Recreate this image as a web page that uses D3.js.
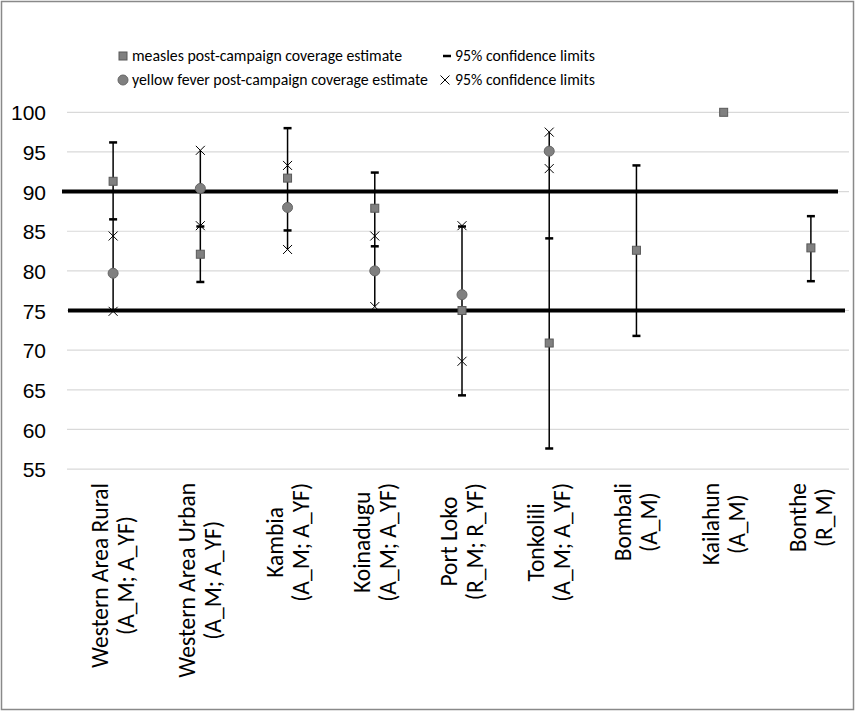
<!DOCTYPE html>
<html>
<head>
<meta charset="utf-8">
<script src="https://cdn.jsdelivr.net/npm/d3@7"></script>
<style>
  html, body { margin: 0; padding: 0; background: #fff; }
  svg { display: block; }
</style>
</head>
<body>
<svg id="chart" width="857" height="712"></svg>
<script>
// ---- data ----
const categories = ["Western Area Rural", "Western Area Urban", "Kambia", "Koinadugu", "Port Loko", "Tonkolili", "Bombali", "Kailahun", "Bonthe"];
const codes = ["(A_M; A_YF)", "(A_M; A_YF)", "(A_M; A_YF)", "(A_M; A_YF)", "(R_M; R_YF)", "(A_M; A_YF)", "(A_M)", "(A_M)", "(R_M)"];
const measles     = [91.3, 82.1, 91.7, 87.9, 75.0, 70.9, 82.6, 100.0, 82.9];
const measlesLow  = [86.5, 78.6, 85.1, 83.1, 64.3, 57.6, 71.8, null, 78.7];
const measlesHigh = [96.2, 85.6, 98.0, 92.4, 85.6, 84.1, 93.3, null, 86.9];
const yellowFever     = [79.7, 90.4, 88.0, 80.0, 77.0, 95.1, null, null, null];
const yellowFeverLow  = [74.9, 85.7, 82.7, 75.5, 68.6, 92.9, null, null, null];
const yellowFeverHigh = [84.4, 95.2, 93.3, 84.4, 85.7, 97.5, null, null, null];
const yTicks = [55, 60, 65, 70, 75, 80, 85, 90, 95, 100];
const targetLines = [90, 75];
const legendLabels = ["measles post-campaign coverage estimate", "yellow fever post-campaign coverage estimate", "95% confidence limits", "95% confidence limits"];

// ---- setup ----
const svg = d3.select("#chart");
const labelFont = "Carlito, Calibri, Lato, 'Open Sans', sans-serif";

svg.append("rect").attr("x", 1.5).attr("y", 1.5).attr("width", 852).attr("height", 708)
  .attr("fill", "#fff").attr("stroke", "#898989").attr("stroke-width", 1.5);

const x = d3.scaleBand().domain(categories).range([69.5, 854.5]).padding(0);
const y = d3.scaleLinear().domain([55, 100]).range([469.1, 112.3]);
const cx = c => x(c) + x.bandwidth() / 2;

// gridlines
svg.append("g").selectAll("line").data(yTicks).join("line")
  .attr("x1", 67).attr("x2", 849)
  .attr("y1", d => y(d)).attr("y2", d => y(d))
  .attr("stroke", "#d9d9d9").attr("stroke-width", 1.2);

// y axis labels
const yAxis = d3.axisLeft(y).tickValues(yTicks).tickSize(0).tickPadding(0);
const ga = svg.append("g").attr("transform", "translate(46,0)").call(yAxis);
ga.select(".domain").remove();
ga.selectAll("text").attr("font-family", "'Liberation Sans', Arial, sans-serif")
  .attr("font-size", 21).attr("fill", "#000").attr("dy", "0.36em");

// target thick lines
const targetExtent = { 90: [62, 838], 75: [68, 845] };
svg.append("g").selectAll("line").data(targetLines).join("line")
  .attr("x1", d => targetExtent[d][0]).attr("x2", d => targetExtent[d][1])
  .attr("y1", d => y(d)).attr("y2", d => y(d))
  .attr("stroke", "#000").attr("stroke-width", 4);

// vertical CI lines (combined extent per category)
const idx = d3.range(categories.length);
const vert = idx.map(i => {
  const vals = [measlesLow[i], measlesHigh[i], yellowFeverLow[i], yellowFeverHigh[i]].filter(v => v != null);
  return vals.length ? { i, lo: d3.min(vals), hi: d3.max(vals) } : null;
}).filter(d => d);
svg.append("g").selectAll("line").data(vert).join("line")
  .attr("x1", d => cx(categories[d.i])).attr("x2", d => cx(categories[d.i]))
  .attr("y1", d => y(d.hi)).attr("y2", d => y(d.lo))
  .attr("stroke", "#000").attr("stroke-width", 1.5);

// measles caps
const caps = [];
idx.forEach(i => {
  if (measlesLow[i] != null) caps.push({ i, v: measlesLow[i] });
  if (measlesHigh[i] != null) caps.push({ i, v: measlesHigh[i] });
});
svg.append("g").selectAll("line").data(caps).join("line")
  .attr("x1", d => cx(categories[d.i]) - 4).attr("x2", d => cx(categories[d.i]) + 4)
  .attr("y1", d => y(d.v)).attr("y2", d => y(d.v))
  .attr("stroke", "#000").attr("stroke-width", 2.5);

// yellow fever X markers
const xs = [];
idx.forEach(i => {
  if (yellowFeverLow[i] != null) xs.push({ i, v: yellowFeverLow[i] });
  if (yellowFeverHigh[i] != null) xs.push({ i, v: yellowFeverHigh[i] });
});
const crossPath = (px, py, s) => `M${px - s},${py - s}L${px + s},${py + s}M${px - s},${py + s}L${px + s},${py - s}`;
svg.append("g").selectAll("path").data(xs).join("path")
  .attr("d", d => crossPath(cx(categories[d.i]), y(d.v), 4.5))
  .attr("stroke", "#000").attr("stroke-width", 1).attr("fill", "none");

// measles squares
svg.append("g").selectAll("rect").data(idx.filter(i => measles[i] != null)).join("rect")
  .attr("x", i => cx(categories[i]) - 4).attr("y", i => y(measles[i]) - 4)
  .attr("width", 8).attr("height", 8)
  .attr("fill", "#808080").attr("stroke", "#595959").attr("stroke-width", 1);

// yellow fever circles
svg.append("g").selectAll("circle").data(idx.filter(i => yellowFever[i] != null)).join("circle")
  .attr("cx", i => cx(categories[i])).attr("cy", i => y(yellowFever[i]))
  .attr("r", 5).attr("fill", "#808080").attr("stroke", "#666").attr("stroke-width", 1);

// x labels (rotated, two lines, block anchored at top)
const labelTop = 483;
const lg = svg.append("g").selectAll("g").data(idx).join("g");
lg.each(function(i) {
  const g = d3.select(this);
  const c = cx(categories[i]);
  const t1 = g.append("text").text(categories[i]);
  const t2 = g.append("text").text(codes[i]);
  [t1, t2].forEach(t => t.attr("font-family", labelFont).attr("font-size", 23.5).attr("fill", "#000").attr("text-anchor", "middle"));
  const maxLen = Math.max(t1.node().getComputedTextLength(), t2.node().getComputedTextLength());
  const mid = labelTop + maxLen / 2;
  t1.attr("transform", `translate(${c - 5},${mid}) rotate(-90)`);
  t2.attr("transform", `translate(${c + 21},${mid}) rotate(-90)`);
});

// legend
const leg = svg.append("g").attr("font-family", labelFont).attr("font-size", 15.8).attr("fill", "#000");
leg.append("rect").attr("x", 119).attr("y", 52).attr("width", 8).attr("height", 8)
  .attr("fill", "#808080").attr("stroke", "#595959").attr("stroke-width", 1);
leg.append("circle").attr("cx", 123).attr("cy", 80).attr("r", 5)
  .attr("fill", "#808080").attr("stroke", "#666").attr("stroke-width", 1);
leg.append("line").attr("x1", 443).attr("x2", 451).attr("y1", 56).attr("y2", 56)
  .attr("stroke", "#000").attr("stroke-width", 2.5);
leg.append("path").attr("d", crossPath(445, 80, 4.5)).attr("stroke", "#000").attr("stroke-width", 1).attr("fill", "none");
const legPos = [[132, 61], [132, 85], [455, 61], [455, 85]];
leg.selectAll("text").data(legendLabels).join("text")
  .attr("x", (d, k) => legPos[k][0]).attr("y", (d, k) => legPos[k][1])
  .text(d => d);
</script>
</body>
</html>
